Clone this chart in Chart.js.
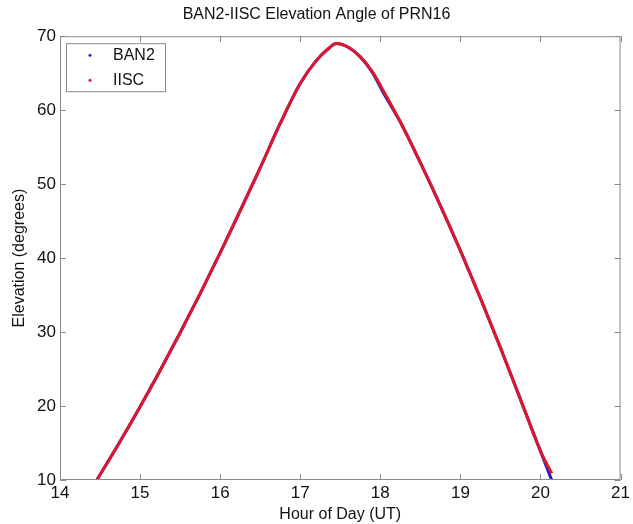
<!DOCTYPE html>
<html>
<head>
<meta charset="utf-8">
<script src="https://cdn.jsdelivr.net/npm/chart.js@4/dist/chart.umd.min.js"></script>
<style>
  html, body { margin: 0; padding: 0; background: #fff; }
  #wrap { width: 633px; height: 524px; }
</style>
</head>
<body>
<div id="wrap"><canvas id="elevChart" width="633" height="524"></canvas></div>
<script>
// hora del dia (UT) y elevacion
var horas = [14.46, 14.75, 15.0, 15.25, 15.5, 15.75, 16.0, 16.25, 16.5, 16.75, 17.0, 17.2, 17.35, 17.45, 17.6, 17.75, 17.9, 18.05, 18.25, 18.5, 18.75, 19.0, 19.25, 19.5, 19.75, 20.0, 20.14];
var elevBAN2 = [10, 15.2, 19.9, 24.8, 29.9, 35.2, 40.7, 46.4, 52.2, 58.2, 63.6, 66.7, 68.3, 69, 68.5, 67.2, 65.1, 62.1, 58.4, 52.9, 47.1, 41.0, 34.6, 27.9, 20.9, 13.9, 10];
var elevIISC = [10, 15.2, 19.9, 24.8, 29.9, 35.2, 40.7, 46.4, 52.2, 58.2, 63.6, 66.7, 68.3, 69, 68.5, 67.2, 65.2, 62.4, 58.4, 52.9, 47.1, 41.0, 34.6, 27.9, 20.9, 13.9, 10.9];
var xTicks = [14, 15, 16, 17, 18, 19, 20, 21];
var yTicks = [10, 20, 30, 40, 50, 60, 70];

function puntos(xs, ys) {
    var pts = [];
    for (var i = 0; i < xs.length; i++) {
        pts.push({x: xs[i], y: ys[i]});
    }
    return pts;
}

var fuente = "'Liberation Sans', Arial, sans-serif";

// caja estilo matlab con marcas hacia adentro + leyenda dentro del area
var cajaPlugin = {
    id: 'caja',
    afterDraw: function (chart) {
        var ctx = chart.ctx;
        var a = chart.chartArea;
        var sx = chart.scales.x, sy = chart.scales.y;
        ctx.save();
        ctx.strokeStyle = '#8a8a8a';
        ctx.lineWidth = 1;
        ctx.strokeRect(a.left + 0.5, a.top + 0.5, a.right - a.left - 1, a.bottom - a.top - 1);
        ctx.beginPath();
        xTicks.forEach(function (v) {
            var px = Math.round(sx.getPixelForValue(v)) + 0.5;
            ctx.moveTo(px, a.bottom); ctx.lineTo(px, a.bottom - 6);
            ctx.moveTo(px, a.top); ctx.lineTo(px, a.top + 6);
        });
        yTicks.forEach(function (v) {
            var py = Math.round(sy.getPixelForValue(v)) + 0.5;
            ctx.moveTo(a.left, py); ctx.lineTo(a.left + 6, py);
            ctx.moveTo(a.right, py); ctx.lineTo(a.right - 6, py);
        });
        ctx.stroke();

        // leyenda
        var lx = a.left + 6, ly = a.top + 7, lw = 99, lh = 48;
        ctx.fillStyle = '#fff';
        ctx.fillRect(lx, ly, lw, lh);
        ctx.strokeStyle = '#8a8a8a';
        ctx.strokeRect(lx + 0.5, ly + 0.5, lw, lh);
        ctx.font = '16px ' + fuente;
        ctx.textBaseline = 'middle';
        chart.data.datasets.forEach(function (ds, i) {
            var yy = ly + 12 + i * 25;
            ctx.fillStyle = ds.borderColor;
            ctx.beginPath();
            ctx.arc(lx + 24, yy, 1.5, 0, Math.PI * 2);
            ctx.fill();
            ctx.fillStyle = '#111';
            ctx.fillText(ds.label, lx + 47, yy);
        });
        ctx.restore();
    }
};

var ctxElev = document.getElementById('elevChart');
var config = {
    type: 'scatter',
    data: {
        datasets: [{
            label: 'BAN2',
            data: puntos(horas, elevBAN2),
            borderColor: 'rgb(30,30,200)',
            backgroundColor: 'rgb(30,30,200)',
            showLine: true,
            borderWidth: 3,
            pointRadius: 0,
            cubicInterpolationMode: 'monotone',
            order: 1
        }, {
            label: 'IISC',
            data: puntos(horas, elevIISC),
            borderColor: 'rgb(222,24,40)',
            backgroundColor: 'rgb(222,24,40)',
            showLine: true,
            borderWidth: 3,
            pointRadius: 0,
            cubicInterpolationMode: 'monotone',
            order: 0
        }]
    },
    options: {
        responsive: false,
        animation: false,
        layout: { padding: { left: 10, right: 10, top: 0, bottom: 0 } },
        plugins: {
            legend: { display: false },
            tooltip: { enabled: false },
            title: {
                display: true,
                text: 'BAN2-IISC Elevation Angle of PRN16',
                color: '#111',
                font: { family: fuente, size: 16, weight: 'normal' },
                padding: { top: 5, bottom: 12 }
            }
        },
        scales: {
            x: {
                type: 'linear',
                min: 14, max: 21,
                afterFit: function (s) { s.height = 44; },
                afterBuildTicks: function (s) { s.ticks = xTicks.map(function (v) { return {value: v}; }); },
                grid: { display: false, drawTicks: false },
                border: { display: false },
                ticks: { color: '#111', padding: 3, font: { family: fuente, size: 17 } },
                title: {
                    display: true, text: 'Hour of Day (UT)', color: '#111',
                    font: { family: fuente, size: 16 }, padding: { top: 0, bottom: 0 }
                }
            },
            y: {
                min: 10, max: 70,
                afterFit: function (s) { s.width = 50; },
                afterBuildTicks: function (s) { s.ticks = yTicks.map(function (v) { return {value: v}; }); },
                grid: { display: false, drawTicks: false },
                border: { display: false },
                ticks: { color: '#111', padding: 4, font: { family: fuente, size: 17 } },
                title: {
                    display: true, text: 'Elevation (degrees)', color: '#111',
                    font: { family: fuente, size: 16 }, padding: { top: 0, bottom: 0 }
                }
            }
        }
    },
    plugins: [cajaPlugin]
};
window.myChart = new Chart(ctxElev, config);
</script>
</body>
</html>
